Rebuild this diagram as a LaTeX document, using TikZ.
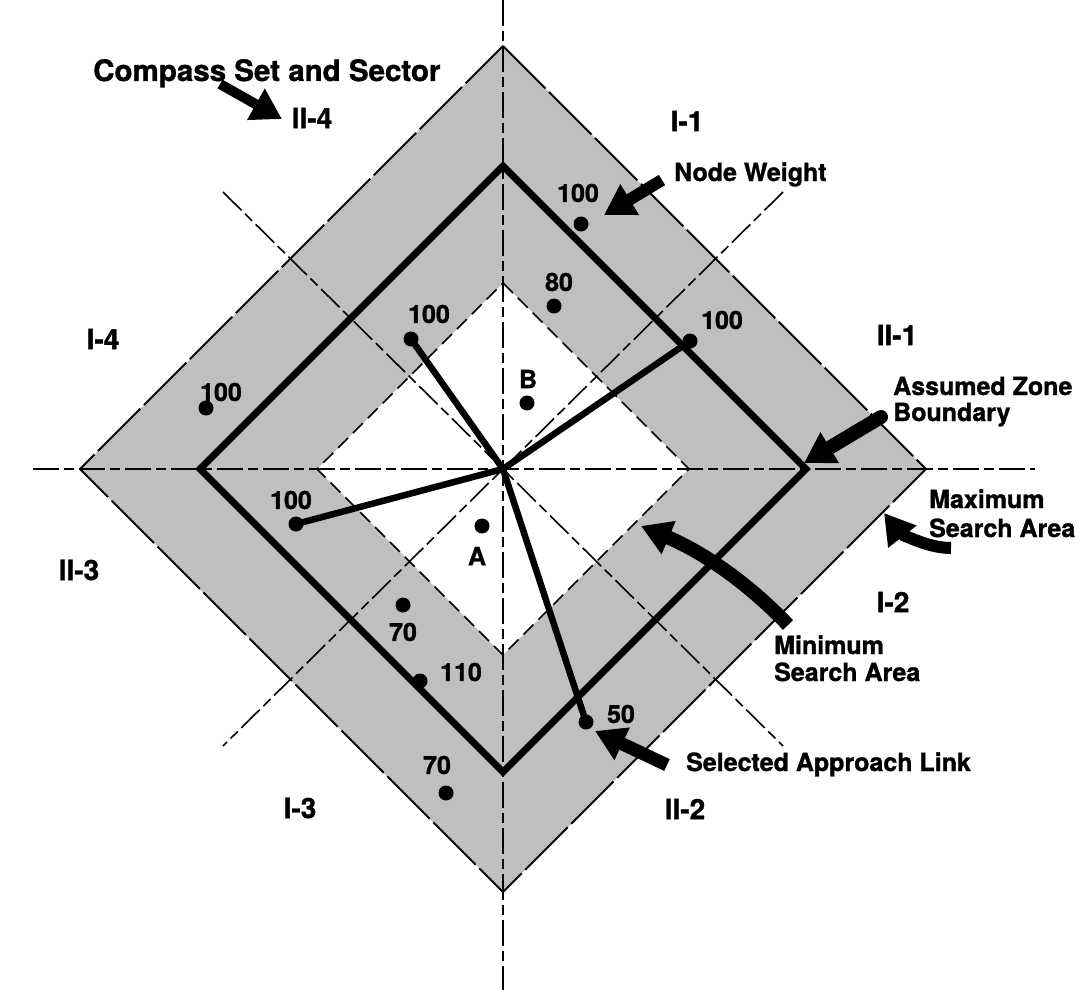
\documentclass[tikz,border=0pt]{standalone}
\usepackage{fontspec}
\setmainfont{TeX Gyre Heros}[BoldFeatures={FakeBold=1.2}]
\usetikzlibrary{arrows.meta}
\begin{document}
\begin{tikzpicture}[x=1pt,y=-1pt,
  axisline/.style={line width=1.6, dash pattern=on 26pt off 5pt on 10pt off 5pt},
  minarea/.style={line width=1.7, dash pattern=on 14pt off 7pt},
  maxarea/.style={line width=1.8, dash pattern=on 60pt off 5pt},
  zone/.style={line width=7, line join=miter},
  link/.style={line width=6.5, line cap=round},
  dot/.style={circle, fill=black, inner sep=0pt, minimum size=15pt},
  shade/.style={fill=black!25},
  blockarrow/.style={line width=12, -{Triangle[length=30pt,width=34pt]}},
  title/.style={font=\fontsize{29.5}{31}\selectfont\bfseries, inner sep=0pt},
  lbl/.style={font=\fontsize{25}{27}\selectfont\bfseries, inner sep=0pt, anchor=base west},
  sector/.style={font=\fontsize{28}{30}\selectfont\bfseries, inner sep=0pt},
  wt/.style={font=\fontsize{25}{27}\selectfont\bfseries, inner sep=0pt}]
\useasboundingbox (0,0) rectangle (1081,990);
\fill[white] (0,0) rectangle (1081,990);

% centre of the compass
\coordinate (ctr) at (503,469);

% search band between maximum and minimum search areas
\fill[shade, even odd rule]
  (503,46) -- (926,469) -- (503,892) -- (80,469) -- cycle
  (503,283) -- (689,469) -- (503,655) -- (317,469) -- cycle;

% compass axes
\coordinate (vN) at (503,0);   \coordinate (vS) at (503,990);
\coordinate (hW) at (33,469);  \coordinate (hE) at (1035,469);
\coordinate (dNW) at (223,192); \coordinate (dSE) at (783,746);
\coordinate (dNE) at (783,192); \coordinate (dSW) at (223,746);
\draw[axisline] (vN) -- (vS);
\draw[axisline] (hW) -- (hE);
\draw[axisline] (dNW) -- (dSE);
\draw[axisline] (dNE) -- (dSW);

% minimum search area
\draw[minarea] (503,283) -- (689,469) -- (503,655) -- (317,469) -- cycle;
% maximum search area
\draw[maxarea] (503,46) -- (926,469) -- (503,892) -- (80,469) -- cycle;
% assumed zone boundary
\draw[zone] (503,166) -- (806,469) -- (503,772) -- (200,469) -- cycle;

% weighted nodes
\node[dot] (n1) at (581,224) {};
\node[dot] (n2) at (554,306) {};
\node[dot] (n3) at (411,339) {};
\node[dot] (n4) at (690,341) {};
\node[dot] (n5) at (206,408) {};
\node[dot] (nB) at (527,403) {};
\node[dot] (n6) at (296,524) {};
\node[dot] (nA) at (482,526) {};
\node[dot] (n7) at (403,605) {};
\node[dot] (n8) at (420,681) {};
\node[dot] (n9) at (446,793) {};
\node[dot] (n10) at (586,722) {};

% approach links
\draw[link] (ctr) -- (n3.center);
\draw[link] (ctr) -- (n4.center);
\draw[link] (ctr) -- (n6.center);
\draw[link] (ctr) -- (n10.center);

% node weights
\node[wt] (w1) at (578,193) {100};
\node[wt] (w2) at (559,282) {80};
\node[wt] (w3) at (429,314) {100};
\node[wt] (w4) at (722,320) {100};
\node[wt] (w5) at (221,392) {100};
\node[wt] (wB) at (528,379) {B};
\node[wt] (w6) at (291,500) {100};
\node[wt] (wA) at (477,556) {A};
\node[wt] (w7) at (403,632) {70};
\node[wt] (w8) at (461,672) {110};
\node[wt] (w9) at (437,765) {70};
\node[wt] (w10) at (621,714) {50};

% compass sets and sectors
\node[sector] (s11) at (687,121) {I-1};
\node[sector] (s21) at (897,335) {II-1};
\node[sector] (s12) at (893,602) {I-2};
\node[sector] (s22) at (685,809) {II-2};
\node[sector] (s13) at (300,808) {I-3};
\node[sector] (s23) at (79,570) {II-3};
\node[sector] (s14) at (103,339) {I-4};
\node[sector] (s24) at (312,118) {II-4};

% callouts
\node[title, anchor=base west] (tCS) at (93,81) {Compass Set and Sector};
\node[lbl] (tNW) at (674,181) {Node Weight};
\node[lbl] (tAZ1) at (893,395) {Assumed Zone};
\node[lbl] (tAZ2) at (893,421) {Boundary};
\node[lbl] (tMX1) at (929,508) {Maximum};
\node[lbl] (tMX2) at (929,537) {Search Area};
\node[lbl] (tMN1) at (774,654) {Minimum};
\node[lbl] (tMN2) at (774,681) {Search Area};
\node[lbl] (tSL) at (686,771) {Selected Approach Link};

% callout arrows
\coordinate (aCSt) at (220,84);  \coordinate (aCSh) at (282,119);
\coordinate (aNWt) at (662,180); \coordinate (aNWh) at (604,215);
\coordinate (aAZt) at (881,417); \coordinate (aAZh) at (804,463);
\coordinate (aMXt) at (951,548); \coordinate (aMXh) at (884,513);
\coordinate (aMNt) at (788,625); \coordinate (aMNh) at (641,526);
\coordinate (aSLt) at (667,765); \coordinate (aSLh) at (595,731);
\draw[blockarrow, line width=10] (aCSt) -- (aCSh);
\draw[blockarrow] (aNWt) -- (aNWh);
\draw[blockarrow, line width=14, line cap=round] (aAZt) -- (aAZh);
\draw[blockarrow] (aMXt) .. controls (925,548) and (898,531) .. (aMXh);
\draw[blockarrow, line width=14] (aMNt) .. controls (750,585) and (705,553) .. (aMNh);
\draw[blockarrow, line width=13] (aSLt) -- (aSLh);
\end{tikzpicture}
\end{document}
